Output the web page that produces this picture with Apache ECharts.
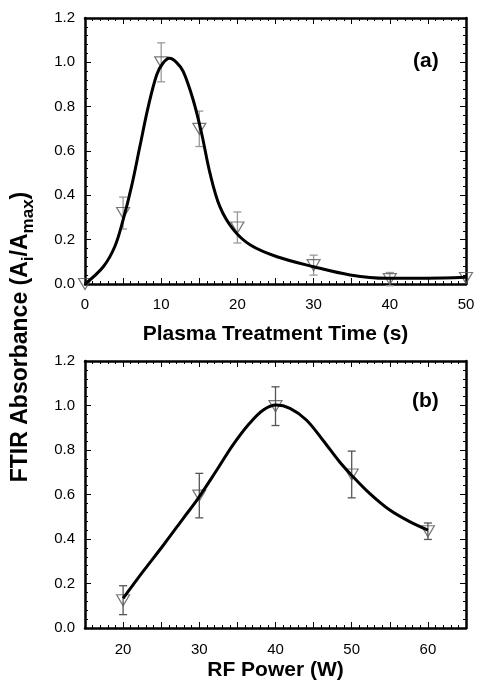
<!DOCTYPE html>
<html>
<head>
<meta charset="utf-8">
<script src="https://cdn.jsdelivr.net/npm/echarts@6/dist/echarts.min.js"></script>
<style>
  html, body { margin: 0; padding: 0; background: #fff; }
  #chart { width: 478px; height: 686px; }
</style>
</head>
<body>
<div id="chart"></div>
<script>
// (a) plasma treatment time
const timeX = [0, 5, 10, 15, 20, 30, 40, 50];
const timeY = [0, 0.32, 1.0, 0.70, 0.255, 0.085, 0.022, 0.027];
const timeErr = [0, 0.072, 0.088, 0.08, 0.07, 0.045, 0.03, 0];
// fitted curve
const timeFitX = [0, 2.4, 3.9, 5.0, 6.1, 7.2, 8.3, 9.4, 10.2, 11.1, 12.0, 12.9, 14.2, 15.3, 16.4, 17.7, 19.5, 21.7, 25.2, 30, 34.8, 39.6, 44.8, 50];
const timeFitY = [0, 0.078, 0.168, 0.289, 0.439, 0.62, 0.80, 0.943, 0.995, 1.018, 1.0, 0.958, 0.83, 0.68, 0.50, 0.349, 0.244, 0.176, 0.123, 0.078, 0.041, 0.026, 0.026, 0.03];

// (b) RF power
const powerX = [20, 30, 40, 50, 60];
const powerY = [0.125, 0.595, 0.997, 0.69, 0.435];
const powerErr = [0.065, 0.1, 0.087, 0.105, 0.037];
const powerFitX = [20, 22.6, 25.3, 27.9, 29.85, 32.3, 34.4, 36.6, 38.4, 40.1, 41.9, 44.05, 46.2, 48.4, 49.95, 52.35, 55, 57.6, 60];
const powerFitY = [0.133, 0.253, 0.373, 0.493, 0.583, 0.71, 0.822, 0.92, 0.98, 1.002, 0.987, 0.935, 0.845, 0.747, 0.688, 0.605, 0.53, 0.478, 0.44];

const chart = echarts.init(document.getElementById('chart'));

const font = 'Liberation Sans, Arial, sans-serif';

function zip(xs, ys, es) {
  return xs.map((x, i) => es ? [x, ys[i], es[i]] : [x, ys[i]]);
}

function errRender(color) {
  return function (params, api) {
    const x = api.value(0), y = api.value(1), e = api.value(2);
    if (!e) return null;
    const p1 = api.coord([x, y + e]);
    const p2 = api.coord([x, y - e]);
    const w = 4;
    const st = { stroke: color, lineWidth: 1.3 };
    return {
      type: 'group',
      children: [
        { type: 'line', shape: { x1: p1[0], y1: p1[1], x2: p2[0], y2: p2[1] }, style: st },
        { type: 'line', shape: { x1: p1[0] - w, y1: p1[1], x2: p1[0] + w, y2: p1[1] }, style: st },
        { type: 'line', shape: { x1: p2[0] - w, y1: p2[1], x2: p2[0] + w, y2: p2[1] }, style: st }
      ]
    };
  };
}

const frameLine = { show: true, onZero: false, lineStyle: { color: '#000', width: 2.5 } };
const tick = { inside: true, length: 6, lineStyle: { color: '#000', width: 1 } };
const minor = { show: true, splitNumber: 5, length: 3, lineStyle: { color: '#000', width: 1 } };
const tickLabel = { color: '#000', fontSize: 15, fontFamily: font };
const nameStyle = { color: '#000', fontSize: 21, fontWeight: 'bold', fontFamily: font };

function xAxes(grid, min, max, name, gap, margin, fmt) {
  return [
    {
      type: 'value', gridIndex: grid, min: min, max: max, interval: 5,
      axisLine: frameLine, axisTick: tick, minorTick: minor, splitLine: { show: false },
      axisLabel: Object.assign({ margin: margin, formatter: fmt }, tickLabel),
      name: name, nameLocation: 'middle', nameGap: gap, nameTextStyle: nameStyle
    },
    {
      type: 'value', gridIndex: grid, position: 'top', min: min, max: max, interval: 5,
      axisLine: frameLine, axisTick: tick, minorTick: minor, splitLine: { show: false },
      axisLabel: { show: false }
    }
  ];
}

function yAxes(grid) {
  return [
    {
      type: 'value', gridIndex: grid, min: 0, max: 1.2, interval: 0.2,
      axisLine: frameLine, axisTick: tick, minorTick: minor, splitLine: { show: false },
      axisLabel: Object.assign({ margin: 10, formatter: v => v.toFixed(1) }, tickLabel)
    },
    {
      type: 'value', gridIndex: grid, position: 'right', min: 0, max: 1.2, interval: 0.2,
      axisLine: frameLine, axisTick: tick, minorTick: minor, splitLine: { show: false },
      axisLabel: { show: false }
    }
  ];
}

const tenOnly = v => (v % 10 === 0 ? String(v) : '');

const option = {
  animation: false,
  backgroundColor: '#fff',
  grid: [
    { left: 85, top: 18, width: 381, height: 266 },
    { left: 85, top: 361, width: 381, height: 267 }
  ],
  xAxis: [
    ...xAxes(0, 0, 50, 'Plasma Treatment Time (s)', 40, 13, tenOnly),
    ...xAxes(1, 15, 65, 'RF Power (W)', 32, 14, tenOnly)
  ],
  yAxis: [...yAxes(0), ...yAxes(1)],
  graphic: [
    {
      type: 'text', left: 413, top: 51,
      style: { text: '(a)', fill: '#000', font: 'bold 21px ' + font }
    },
    {
      type: 'text', left: 412, top: 391,
      style: { text: '(b)', fill: '#000', font: 'bold 21px ' + font }
    },
    {
      type: 'text', x: 23, y: 337, rotation: Math.PI / 2,
      style: {
        text: '{n|FTIR Absorbance (A}{s|i}{n|/A}{s|max}{n|)}',
        align: 'center', verticalAlign: 'middle',
        rich: {
          n: { fontSize: 23, fontWeight: 'bold', fontFamily: font, fill: '#000', lineHeight: 27, verticalAlign: 'top' },
          s: { fontSize: 17, fontWeight: 'bold', fontFamily: font, fill: '#000', lineHeight: 27, verticalAlign: 'bottom', padding: [9, 0, 0, 0] }
        }
      }
    }
  ],
  series: [
    {
      type: 'custom', xAxisIndex: 0, yAxisIndex: 0,
      renderItem: errRender('#9a9a9a'),
      data: zip(timeX, timeY, timeErr), z: 2
    },
    {
      type: 'scatter', xAxisIndex: 0, yAxisIndex: 0,
      symbol: 'triangle', symbolRotate: 180, symbolSize: [13, 11],
      itemStyle: { color: 'rgba(0,0,0,0)', borderColor: '#555', borderWidth: 1.2 },
      data: zip(timeX, timeY), z: 3
    },
    {
      type: 'line', xAxisIndex: 0, yAxisIndex: 0, smooth: 0.35, showSymbol: false,
      lineStyle: { color: '#000', width: 3 },
      data: zip(timeFitX, timeFitY), z: 4
    },
    {
      type: 'custom', xAxisIndex: 2, yAxisIndex: 2,
      renderItem: errRender('#555'),
      data: zip(powerX, powerY, powerErr), z: 2
    },
    {
      type: 'scatter', xAxisIndex: 2, yAxisIndex: 2,
      symbol: 'triangle', symbolRotate: 180, symbolSize: [13, 11],
      itemStyle: { color: 'rgba(0,0,0,0)', borderColor: '#555', borderWidth: 1.2 },
      data: zip(powerX, powerY), z: 3
    },
    {
      type: 'line', xAxisIndex: 2, yAxisIndex: 2, smooth: 0.35, showSymbol: false,
      lineStyle: { color: '#000', width: 3 },
      data: zip(powerFitX, powerFitY), z: 4
    }
  ]
};

chart.setOption(option);
</script>
</body>
</html>
